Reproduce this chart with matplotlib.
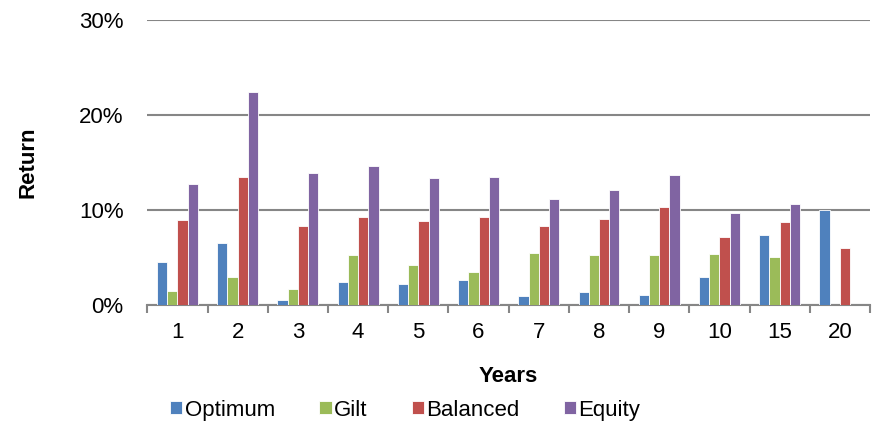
import numpy as np
import matplotlib.pyplot as plt
from matplotlib.ticker import PercentFormatter

plt.rcParams['font.family'] = ['Liberation Sans', 'DejaVu Sans']

years = ['1', '2', '3', '4', '5', '6', '7', '8', '9', '10', '15', '20']
optimum = [4.5, 6.5, 0.5, 2.4, 2.2, 2.65, 0.95, 1.4, 1.0, 2.9, 7.4, 10.0]
gilt = [1.45, 2.9, 1.7, 5.3, 4.2, 3.5, 5.5, 5.3, 5.2, 5.4, 5.0, 0.0]
balanced = [8.9, 13.5, 8.3, 9.25, 8.8, 9.25, 8.3, 9.0, 10.35, 7.15, 8.7, 6.0]
equity = [12.7, 22.4, 13.9, 14.6, 13.4, 13.5, 11.1, 12.1, 13.7, 9.7, 10.6, 0.0]

series = [('Optimum', optimum, '#4F81BD'),
          ('Gilt', gilt, '#9BBB59'),
          ('Balanced', balanced, '#C0504D'),
          ('Equity', equity, '#8064A2')]

fig = plt.figure(figsize=(8.77, 4.24), dpi=100)
ax = fig.add_axes([0.168, 0.281, 0.824, 0.672])

x = np.arange(len(years))
w = 0.17
for i, (name, vals, col) in enumerate(series):
    ax.bar(x + (i - 1.5) * w, vals, width=w, color=col, edgecolor='white',
           linewidth=0.6, label=name, zorder=3)

ax.set_xlim(-0.5, len(years) - 0.5)
ax.set_ylim(0, 30)
ax.set_yticks([0, 10, 20, 30])
ax.yaxis.set_major_formatter(PercentFormatter(decimals=0))
ax.grid(axis='y', color='#868686', linewidth=1.5, zorder=0)

ax.set_xticks(x)
ax.set_xticklabels(years)
ax.set_xticks(np.arange(-0.5, len(years)), minor=True)
ax.tick_params(axis='x', which='major', length=0, labelsize=16, pad=12)
ax.tick_params(axis='x', which='minor', length=6, width=1.5, color='#868686')
ax.tick_params(axis='y', length=0, labelsize=16, pad=17)

for side in ['top', 'right', 'left']:
    ax.spines[side].set_visible(False)
ax.spines['bottom'].set_color('#868686')
ax.spines['bottom'].set_linewidth(1.5)

ax.set_xlabel('Years', fontsize=16, fontweight='bold')
ax.xaxis.set_label_coords(0.5, -0.215)
ax.set_ylabel('Return', fontsize=16, fontweight='bold')
ax.yaxis.set_label_coords(-0.150, 0.5)

fig.legend(*ax.get_legend_handles_labels(), loc='center',
           bbox_to_anchor=(0.462, 0.033), ncol=4, frameon=False,
           fontsize=16, handlelength=0.55, handleheight=0.55, handletextpad=0.1,
           columnspacing=2.0, borderaxespad=0, borderpad=0)

fig.savefig('out.png', dpi=100)
